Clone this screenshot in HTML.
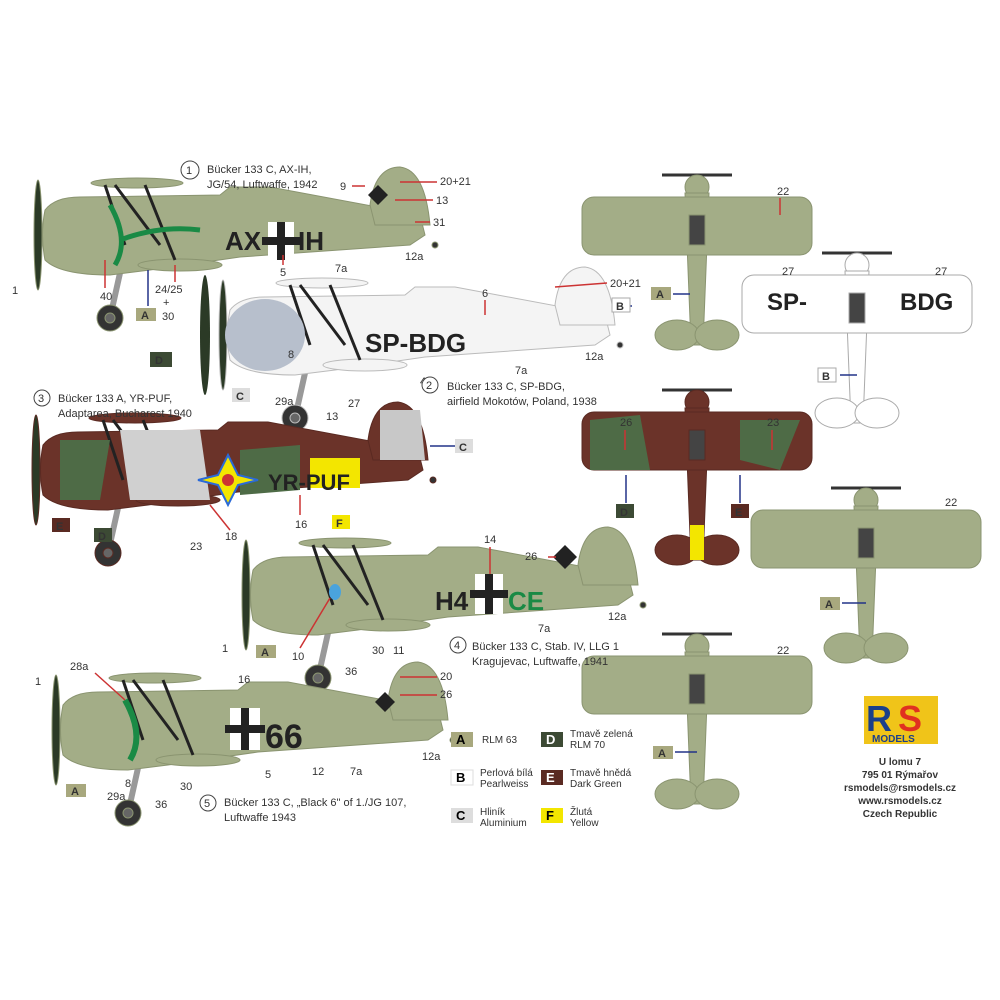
<!DOCTYPE html>
<html><head><meta charset="utf-8"><style>
body{margin:0;background:#fff;}
svg{display:block;font-family:"Liberation Sans",sans-serif;}
.t{font-size:11px;fill:#333}
.n{font-size:10px;fill:#333}
.sw{font-size:13px;font-weight:bold}
.r{stroke:#c33;stroke-width:1.5}
.b{stroke:#223388;stroke-width:1.5}
</style></head><body>
<svg width="1000" height="1000" viewBox="0 0 1000 1000">
<defs>
<g id="side">
 <ellipse cx="-2" cy="0" rx="4" ry="55" fill="#2b3a26"/>
 <line x1="80" y1="38" x2="70" y2="83" stroke="#999" stroke-width="6"/>
 <circle cx="70" cy="83" r="13" fill="#333"/><circle cx="70" cy="83" r="5" fill="#666"/>
 <path d="M5,-25 Q15,-38 40,-38 L180,-40 L190,-48 L230,-48 L380,-20 L385,0 L370,10 L200,22 L110,35 L70,40 Q20,40 5,25 Q0,0 5,-25Z"/>
 <path d="M330,-30 Q335,-68 360,-68 Q385,-65 390,-10 L335,-10Z"/>
 <ellipse cx="140" cy="30" rx="42" ry="6"/>
 <ellipse cx="97" cy="-52" rx="46" ry="5"/>
 <g stroke="#222" stroke-width="3"><line x1="65" y1="-50" x2="85" y2="10"/><line x1="75" y1="-50" x2="120" y2="10"/><line x1="105" y1="-50" x2="135" y2="25"/></g>
 <circle cx="395" cy="10" r="3" fill="#333"/>
</g>
<g id="top">
 <line x1="-35" y1="0" x2="35" y2="0" stroke="#333" stroke-width="3"/>
 <circle cx="0" cy="12" r="12"/>
 <path d="M-12,18 L12,18 L6,170 L-6,170Z"/>
 <ellipse cx="-20" cy="160" rx="22" ry="15"/><ellipse cx="20" cy="160" rx="22" ry="15"/>
 <rect x="-115" y="22" width="230" height="58" rx="12"/>
 <rect x="-8" y="40" width="16" height="30" fill="#444"/>
</g>
</defs>

<!-- plane 1 -->
<g fill="#a3ad87" stroke="#8a9470" stroke-width="1"><use href="#side" x="40" y="235"/></g>
<path d="M110,205 Q130,240 115,265 M120,240 Q160,225 200,230" stroke="#1a8a45" stroke-width="5" fill="none"/>
<text x="225" y="250" font-size="26" font-weight="bold" fill="#222">AX</text>
<rect x="268" y="222" width="26" height="38" fill="#fff"/><rect x="277" y="222" width="8" height="38" fill="#222"/><rect x="262" y="237" width="38" height="8" fill="#222"/>
<text x="298" y="250" font-size="26" font-weight="bold" fill="#222">IH</text>
<path d="M378,185 l10,10 l-10,10 l-10,-10z" fill="#222"/>

<!-- plane 2 -->
<g fill="#f4f4f4" stroke="#bbb"><use href="#side" x="225" y="335"/></g>
<ellipse cx="265" cy="335" rx="40" ry="36" fill="#b7bfcc"/>
<text x="365" y="352" font-size="26" font-weight="bold" fill="#222">SP-BDG</text>
<ellipse cx="205" cy="335" rx="5" ry="60" fill="#2b3a26"/>

<!-- plane 3 -->
<g fill="#6b3329" stroke="#5a2a22"><use href="#side" x="38" y="470"/></g>
<path d="M120,430 L200,430 L210,500 L130,500Z" fill="#d0d0d0"/>
<path d="M60,440 L110,440 L100,500 L60,500Z" fill="#4e6b46"/>
<path d="M240,450 L300,445 L300,490 L240,495Z" fill="#4e6b46"/>
<path d="M380,410 L420,410 L425,460 L380,460Z" fill="#c8c8c8"/>
<rect x="310" y="458" width="50" height="30" fill="#f3e600"/>
<text x="268" y="490" font-size="22" font-weight="bold" fill="#222">YR-PUF</text>
<path d="M228,455 l10,20 l20,5 l-20,5 l-10,20 l-10,-20 l-20,-5 l20,-5z" fill="#f3e600" stroke="#2a6ad8" stroke-width="2"/><circle cx="228" cy="480" r="6" fill="#c33"/>

<!-- plane 4 -->
<g fill="#a3ad87" stroke="#8a9470"><use href="#side" x="248" y="595"/></g>
<path d="M565,545 l12,12 l-12,12 l-12,-12z" fill="#222"/>
<text x="435" y="610" font-size="26" font-weight="bold" fill="#222">H4</text><text x="508" y="610" font-size="26" font-weight="bold" fill="#1a8a45">CE</text>
<rect x="475" y="574" width="28" height="40" fill="#fff"/><rect x="485" y="574" width="8" height="40" fill="#222"/><rect x="470" y="590" width="38" height="8" fill="#222"/>
<ellipse cx="335" cy="592" rx="6" ry="8" fill="#4aa3dd"/>

<!-- plane 5 -->
<g fill="#a3ad87" stroke="#8a9470"><use href="#side" x="58" y="730"/></g>
<path d="M125,700 Q145,735 130,760" stroke="#1a8a45" stroke-width="6" fill="none"/>
<rect x="230" y="708" width="30" height="42" fill="#fff"/><rect x="241" y="708" width="8" height="42" fill="#222"/><rect x="225" y="725" width="40" height="8" fill="#222"/>
<text x="265" y="748" font-size="34" font-weight="bold" fill="#222">66</text>
<path d="M385,692 l10,10 l-10,10 l-10,-10z" fill="#222"/>

<!-- top views -->
<g fill="#a3ad87" stroke="#8a9470"><use href="#top" x="697" y="175"/></g>
<g fill="#ffffff" stroke="#aaa"><use href="#top" x="857" y="253"/></g>
<text x="767" y="310" font-size="24" font-weight="bold" fill="#222">SP-</text><text x="900" y="310" font-size="24" font-weight="bold" fill="#222">BDG</text>
<g fill="#6b3329" stroke="#5a2a22"><use href="#top" x="697" y="390"/></g>
<path d="M590,420 L640,415 L650,470 L590,470Z M740,420 L800,420 L780,470 L740,460Z" fill="#4e6b46"/>
<rect x="690" y="525" width="14" height="35" fill="#f3e600"/>
<g fill="#a3ad87" stroke="#8a9470"><use href="#top" x="866" y="488"/></g>
<g fill="#a3ad87" stroke="#8a9470"><use href="#top" x="697" y="634"/></g>

<!-- leader lines -->
<g class="r">
<line x1="352" y1="186" x2="365" y2="186"/><line x1="400" y1="182" x2="437" y2="182"/><line x1="395" y1="200" x2="433" y2="200"/><line x1="415" y1="222" x2="430" y2="222"/>
<line x1="283" y1="255" x2="283" y2="265"/><line x1="175" y1="265" x2="175" y2="282"/><line x1="105" y1="260" x2="105" y2="288"/>
<line x1="555" y1="287" x2="607" y2="283"/><line x1="485" y1="300" x2="485" y2="315"/>
<line x1="210" y1="505" x2="230" y2="530"/><line x1="300" y1="495" x2="300" y2="515"/>
<line x1="490" y1="547" x2="490" y2="574"/><line x1="548" y1="557" x2="556" y2="557"/><line x1="300" y1="648" x2="330" y2="598"/>
<line x1="95" y1="673" x2="125" y2="700"/><line x1="400" y1="677" x2="437" y2="677"/><line x1="400" y1="695" x2="437" y2="695"/>
<line x1="780" y1="198" x2="780" y2="215"/><line x1="625" y1="430" x2="625" y2="450"/><line x1="772" y1="430" x2="772" y2="450"/>
</g>
<g class="b">
<line x1="148" y1="270" x2="148" y2="306"/><line x1="632" y1="306" x2="612" y2="306"/><line x1="673" y1="294" x2="690" y2="294"/>
<line x1="840" y1="375" x2="857" y2="375"/><line x1="626" y1="475" x2="626" y2="503"/><line x1="740" y1="475" x2="740" y2="503"/>
<line x1="430" y1="446" x2="455" y2="446"/><line x1="842" y1="603" x2="866" y2="603"/><line x1="675" y1="752" x2="697" y2="752"/>
</g>

<!-- labels -->
<circle cx="190" cy="170" r="9" fill="#fff" stroke="#444"/><text x="186" y="174" class="t">1</text>
<text x="207" y="173" class="t">Bücker 133 C, AX-IH,</text><text x="207" y="188" class="t">JG/54, Luftwaffe, 1942</text>
<text x="340" y="190" class="t">9</text><text x="440" y="185" class="t">20+21</text><text x="436" y="204" class="t">13</text><text x="433" y="226" class="t">31</text><text x="405" y="260" class="t">12a</text><text x="335" y="272" class="t">7a</text><text x="280" y="276" class="t">5</text><text x="100" y="300" class="t">40</text><text x="155" y="293" class="t">24/25</text><text x="163" y="306" class="t">+</text><text x="162" y="320" class="t">30</text><text x="12" y="294" class="t">1</text>
<rect x="136" y="308" width="20" height="13" fill="#a8a87e"/><text x="141" y="319" class="t" font-weight="bold">A</text>

<text x="610" y="287" class="t">20+21</text><text x="482" y="297" class="t">6</text><rect x="612" y="298" width="18" height="14" fill="#fff" stroke="#aaa"/><text x="616" y="310" class="t" font-weight="bold">B</text>
<text x="585" y="360" class="t">12a</text><text x="515" y="374" class="t">7a</text><text x="420" y="385" class="t">4</text><text x="348" y="407" class="t">27</text><text x="326" y="420" class="t">13</text><text x="288" y="358" class="t">8</text><text x="275" y="405" class="t">29a</text>
<rect x="150" y="352" width="22" height="15" fill="#3c4a34"/><text x="155" y="364" fill="#fff" class="t" font-weight="bold">D</text>
<rect x="232" y="388" width="18" height="14" fill="#ddd"/><text x="236" y="400" class="t" font-weight="bold">C</text>
<circle cx="430" cy="385" r="8" fill="#fff" stroke="#444"/><text x="426" y="389" class="t">2</text>
<text x="447" y="390" class="t">Bücker 133 C, SP-BDG,</text><text x="447" y="405" class="t">airfield Mokotów, Poland, 1938</text>

<circle cx="42" cy="398" r="8" fill="#fff" stroke="#444"/><text x="38" y="402" class="t">3</text>
<text x="58" y="402" class="t">Bücker 133 A, YR-PUF,</text><text x="58" y="417" class="t">Adaptarea, Bucharest 1940</text>
<rect x="455" y="439" width="18" height="14" fill="#ddd"/><text x="459" y="451" class="t" font-weight="bold">C</text>
<rect x="52" y="518" width="18" height="14" fill="#5a2a22"/><text x="56" y="530" fill="#fff" class="t" font-weight="bold">E</text>
<rect x="94" y="528" width="18" height="14" fill="#3c4a34"/><text x="98" y="540" fill="#fff" class="t" font-weight="bold">D</text>
<rect x="332" y="515" width="18" height="14" fill="#f3e600"/><text x="336" y="527" class="t" font-weight="bold">F</text>
<text x="295" y="528" class="t">16</text><text x="225" y="540" class="t">18</text><text x="190" y="550" class="t">23</text>

<text x="484" y="543" class="t">14</text><text x="525" y="560" class="t">26</text><text x="608" y="620" class="t">12a</text><text x="538" y="632" class="t">7a</text>
<text x="292" y="660" class="t">10</text><text x="345" y="675" class="t">36</text><text x="372" y="654" class="t">30</text><text x="393" y="654" class="t">11</text><text x="222" y="652" class="t">1</text>
<rect x="256" y="645" width="20" height="13" fill="#a8a87e"/><text x="261" y="656" class="t" font-weight="bold">A</text>
<circle cx="458" cy="645" r="8" fill="#fff" stroke="#444"/><text x="454" y="649" class="t">4</text>
<text x="472" y="650" class="t">Bücker 133 C, Stab. IV, LLG 1</text><text x="472" y="665" class="t">Kragujevac, Luftwaffe, 1941</text>

<text x="70" y="670" class="t">28a</text><text x="238" y="683" class="t">16</text><text x="440" y="680" class="t">20</text><text x="440" y="698" class="t">26</text><text x="422" y="760" class="t">12a</text><text x="350" y="775" class="t">7a</text><text x="312" y="775" class="t">12</text><text x="265" y="778" class="t">5</text><text x="180" y="790" class="t">30</text><text x="155" y="808" class="t">36</text><text x="107" y="800" class="t">29a</text><text x="125" y="787" class="t">8</text><text x="35" y="685" class="t">1</text>
<rect x="66" y="784" width="20" height="13" fill="#a8a87e"/><text x="71" y="795" class="t" font-weight="bold">A</text>
<circle cx="208" cy="803" r="8" fill="#fff" stroke="#444"/><text x="204" y="807" class="t">5</text>
<text x="224" y="806" class="t">Bücker 133 C, „Black 6" of 1./JG 107,</text><text x="224" y="821" class="t">Luftwaffe 1943</text>

<text x="777" y="195" class="t">22</text><text x="782" y="275" class="t">27</text><text x="935" y="275" class="t">27</text><text x="620" y="426" class="t">26</text><text x="767" y="426" class="t">23</text><text x="945" y="506" class="t">22</text><text x="777" y="654" class="t">22</text>
<rect x="651" y="287" width="20" height="13" fill="#a8a87e"/><text x="656" y="298" class="t" font-weight="bold">A</text>
<rect x="818" y="368" width="18" height="14" fill="#fff" stroke="#aaa"/><text x="822" y="380" class="t" font-weight="bold">B</text>
<rect x="616" y="504" width="18" height="14" fill="#3c4a34"/><text x="620" y="516" fill="#fff" class="t" font-weight="bold">D</text>
<rect x="731" y="504" width="18" height="14" fill="#5a2a22"/><text x="735" y="516" fill="#fff" class="t" font-weight="bold">E</text>
<rect x="820" y="597" width="20" height="13" fill="#a8a87e"/><text x="825" y="608" class="t" font-weight="bold">A</text>
<rect x="653" y="746" width="20" height="13" fill="#a8a87e"/><text x="658" y="757" class="t" font-weight="bold">A</text>

<!-- legend -->
<rect x="451" y="732" width="22" height="15" fill="#a8a87e"/><text x="456" y="744" class="sw">A</text><text x="482" y="743" class="n">RLM 63</text>
<rect x="451" y="770" width="22" height="15" fill="#fff" stroke="#ddd"/><text x="456" y="782" class="sw">B</text><text x="480" y="776" class="n">Perlová bílá</text><text x="480" y="787" class="n">Pearlweiss</text>
<rect x="451" y="808" width="22" height="15" fill="#ddd"/><text x="456" y="820" class="sw">C</text><text x="480" y="815" class="n">Hliník</text><text x="480" y="826" class="n">Aluminium</text>
<rect x="541" y="732" width="22" height="15" fill="#3c4a34"/><text x="546" y="744" class="sw" fill="#fff">D</text><text x="570" y="737" class="n">Tmavě zelená</text><text x="570" y="748" class="n">RLM 70</text>
<rect x="541" y="770" width="22" height="15" fill="#5a2a22"/><text x="546" y="782" class="sw" fill="#fff">E</text><text x="570" y="776" class="n">Tmavě hnědá</text><text x="570" y="787" class="n">Dark Green</text>
<rect x="541" y="808" width="22" height="15" fill="#f3e600"/><text x="546" y="820" class="sw">F</text><text x="570" y="815" class="n">Žlutá</text><text x="570" y="826" class="n">Yellow</text>

<!-- logo -->
<rect x="864" y="696" width="74" height="48" fill="#f0c419"/>
<text x="866" y="731" font-size="36" font-weight="bold" fill="#1b3f8a">R</text><text x="898" y="731" font-size="36" font-weight="bold" fill="#e03020">S</text>
<text x="872" y="742" font-size="10" font-weight="bold" fill="#1b3f8a">MODELS</text>
<g font-size="10" font-weight="bold" fill="#333" text-anchor="middle">
<text x="900" y="765">U lomu 7</text><text x="900" y="778">795 01 Rýmařov</text><text x="900" y="791">rsmodels@rsmodels.cz</text><text x="900" y="804">www.rsmodels.cz</text><text x="900" y="817">Czech Republic</text>
</g>
</svg>
</body></html>
